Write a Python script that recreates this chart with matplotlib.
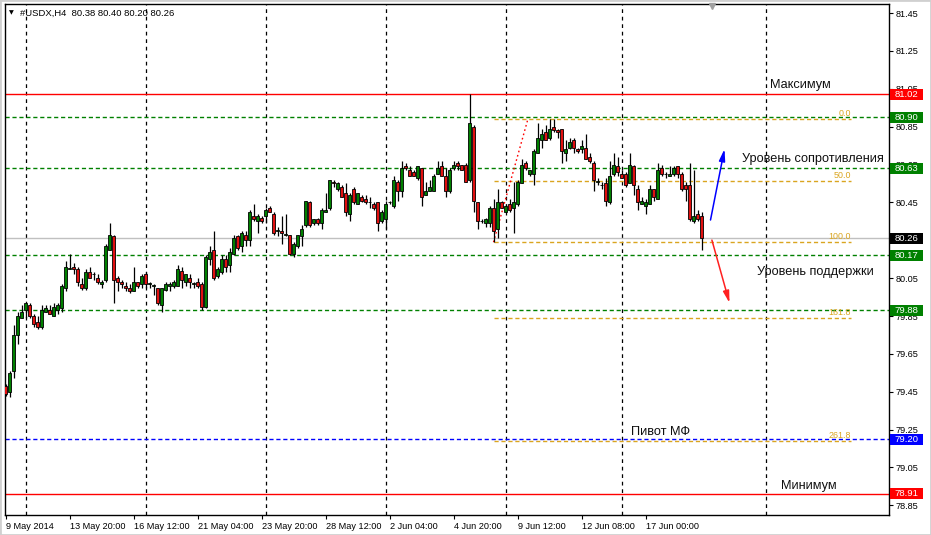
"""USDX H4 candles with support / resistance levels, MT4 style."""
import numpy as np
import matplotlib
matplotlib.use("Agg")
import matplotlib.pyplot as plt
from matplotlib.patches import Rectangle
from matplotlib.transforms import blended_transform_factory

# ---- OHLC, one value per H4 bar ----
opens = [
    79.48, 79.45, 79.56, 79.75, 79.84, 79.88, 79.91, 79.85, 79.82, 79.79,
    79.87, 79.88, 79.85, 79.88, 79.89, 80.00, 80.10, 80.11, 80.10, 80.02,
    80.00, 80.08, 80.07, 80.05, 80.02, 80.04, 80.20, 80.27, 80.05, 80.03,
    80.01, 80.00, 79.98, 80.03, 80.02, 80.07, 80.02, 80.01, 80.00, 79.91,
    79.99, 80.01, 80.01, 80.01, 80.09, 80.03, 80.05, 80.02, 80.03, 80.02,
    79.90, 80.15, 80.20, 80.06, 80.08, 80.15, 80.12, 80.18, 80.27, 80.22,
    80.28, 80.25, 80.38, 80.35, 80.37, 80.38, 80.42, 80.39, 80.30, 80.30,
    80.28, 80.28, 80.18, 80.22, 80.27, 80.33, 80.45, 80.34, 80.36, 80.34,
    80.40, 80.42, 80.56, 80.52, 80.53, 80.50, 80.39, 80.52, 80.44, 80.48,
    80.47, 80.45, 80.44, 80.45, 80.35, 80.36, 80.45, 80.43, 80.56, 80.51,
    80.64, 80.62, 80.61, 80.58, 80.63, 80.49, 80.51, 80.51, 80.60, 80.64,
    80.59, 80.51, 80.63, 80.66, 80.65, 80.65, 80.57, 80.85, 80.45, 80.35,
    80.34, 80.34, 80.42, 80.31, 80.45, 80.40, 80.44, 80.42, 80.44, 80.55,
    80.66, 80.60, 80.60, 80.71, 80.78, 80.82, 80.79, 80.85, 80.83, 80.84,
    80.71, 80.74, 80.78, 80.73, 80.73, 80.74, 80.69, 80.66, 80.56, 80.54,
    80.55, 80.45, 80.60, 80.64, 80.60, 80.60, 80.55, 80.64, 80.52, 80.44,
    80.43, 80.44, 80.52, 80.47, 80.63, 80.60, 80.59, 80.60, 80.64, 80.60,
    80.54, 80.54, 80.35, 80.39, 80.38,
]
highs = [
    79.49, 79.56, 79.80, 79.87, 79.91, 79.92, 79.92, 79.86, 79.85, 79.91,
    79.91, 79.91, 79.92, 79.92, 80.02, 80.14, 80.18, 80.13, 80.11, 80.05,
    80.10, 80.11, 80.08, 80.07, 80.04, 80.23, 80.34, 80.28, 80.06, 80.04,
    80.03, 80.02, 80.11, 80.03, 80.07, 80.08, 80.03, 80.02, 80.00, 80.00,
    80.03, 80.03, 80.04, 80.12, 80.11, 80.07, 80.07, 80.03, 80.05, 80.03,
    80.17, 80.22, 80.30, 80.11, 80.17, 80.17, 80.21, 80.28, 80.28, 80.30,
    80.30, 80.41, 80.44, 80.39, 80.38, 80.42, 80.43, 80.40, 80.32, 80.38,
    80.39, 80.28, 80.24, 80.28, 80.33, 80.46, 80.46, 80.36, 80.37, 80.42,
    80.50, 80.57, 80.57, 80.56, 80.54, 80.55, 80.50, 80.53, 80.50, 80.49,
    80.49, 80.48, 80.45, 80.45, 80.41, 80.46, 80.46, 80.59, 80.57, 80.67,
    80.66, 80.64, 80.62, 80.64, 80.63, 80.56, 80.57, 80.60, 80.67, 80.67,
    80.63, 80.63, 80.67, 80.67, 80.65, 80.66, 81.02, 80.86, 80.45, 80.36,
    80.37, 80.43, 80.47, 80.52, 80.46, 80.44, 80.47, 80.56, 80.57, 80.68,
    80.67, 80.62, 80.73, 80.87, 80.84, 80.86, 80.89, 80.89, 80.84, 80.84,
    80.78, 80.79, 80.79, 80.74, 80.78, 80.81, 80.71, 80.67, 80.58, 80.56,
    80.58, 80.67, 80.71, 80.69, 80.62, 80.61, 80.71, 80.65, 80.54, 80.48,
    80.47, 80.54, 80.52, 80.66, 80.65, 80.61, 80.64, 80.64, 80.64, 80.61,
    80.56, 80.66, 80.62, 80.41, 80.40,
]
lows = [
    79.43, 79.42, 79.52, 79.70, 79.84, 79.84, 79.84, 79.79, 79.78, 79.78,
    79.87, 79.86, 79.85, 79.86, 79.87, 79.98, 80.10, 80.07, 80.01, 79.99,
    79.99, 80.05, 80.04, 80.02, 80.00, 80.03, 80.20, 79.92, 79.98, 80.00,
    79.98, 79.97, 79.98, 80.00, 80.00, 80.00, 80.00, 79.96, 79.91, 79.87,
    79.98, 79.98, 80.00, 80.01, 80.00, 80.01, 80.00, 80.00, 80.00, 79.88,
    79.89, 80.12, 80.04, 80.05, 80.07, 80.08, 80.08, 80.17, 80.20, 80.19,
    80.22, 80.22, 80.35, 80.29, 80.34, 80.34, 80.40, 80.28, 80.27, 80.23,
    80.27, 80.17, 80.16, 80.21, 80.22, 80.32, 80.32, 80.33, 80.33, 80.31,
    80.40, 80.41, 80.53, 80.51, 80.48, 80.38, 80.35, 80.44, 80.44, 80.45,
    80.44, 80.42, 80.41, 80.30, 80.34, 80.31, 80.44, 80.42, 80.46, 80.48,
    80.62, 80.59, 80.59, 80.57, 80.43, 80.49, 80.51, 80.51, 80.60, 80.59,
    80.48, 80.50, 80.62, 80.62, 80.62, 80.56, 80.56, 80.40, 80.31, 80.34,
    80.32, 80.32, 80.24, 80.26, 80.42, 80.40, 80.40, 80.29, 80.43, 80.55,
    80.62, 80.59, 80.54, 80.71, 80.74, 80.78, 80.78, 80.82, 80.79, 80.66,
    80.67, 80.73, 80.71, 80.71, 80.71, 80.68, 80.66, 80.51, 80.54, 80.52,
    80.43, 80.44, 80.59, 80.59, 80.58, 80.53, 80.55, 80.49, 80.41, 80.44,
    80.39, 80.44, 80.46, 80.47, 80.59, 80.58, 80.59, 80.59, 80.58, 80.51,
    80.46, 80.35, 80.34, 80.35, 80.20,
]
closes = [
    79.44, 79.55, 79.75, 79.85, 79.87, 79.92, 79.85, 79.81, 79.79, 79.88,
    79.89, 79.86, 79.90, 79.91, 80.01, 80.11, 80.10, 80.10, 80.03, 80.00,
    80.08, 80.05, 80.07, 80.03, 80.03, 80.22, 80.28, 80.04, 80.03, 80.02,
    80.00, 79.98, 80.03, 80.01, 80.06, 80.02, 80.02, 80.01, 79.92, 80.00,
    80.02, 80.02, 80.03, 80.10, 80.04, 80.07, 80.03, 80.02, 80.01, 79.90,
    80.16, 80.19, 80.05, 80.10, 80.15, 80.11, 80.19, 80.26, 80.21, 80.29,
    80.25, 80.40, 80.36, 80.38, 80.35, 80.41, 80.40, 80.29, 80.30, 80.29,
    80.28, 80.18, 80.23, 80.28, 80.31, 80.46, 80.33, 80.36, 80.34, 80.41,
    80.41, 80.57, 80.55, 80.55, 80.48, 80.40, 80.49, 80.45, 80.50, 80.46,
    80.45, 80.45, 80.42, 80.34, 80.40, 80.44, 80.45, 80.57, 80.51, 80.63,
    80.63, 80.59, 80.59, 80.64, 80.48, 80.51, 80.53, 80.59, 80.63, 80.59,
    80.51, 80.62, 80.65, 80.64, 80.62, 80.56, 80.87, 80.46, 80.35, 80.35,
    80.36, 80.42, 80.30, 80.45, 80.42, 80.43, 80.41, 80.45, 80.56, 80.65,
    80.63, 80.62, 80.72, 80.79, 80.81, 80.78, 80.84, 80.83, 80.82, 80.72,
    80.73, 80.77, 80.74, 80.72, 80.75, 80.68, 80.67, 80.57, 80.56, 80.54,
    80.46, 80.59, 80.65, 80.61, 80.58, 80.54, 80.65, 80.54, 80.45, 80.46,
    80.45, 80.52, 80.48, 80.62, 80.60, 80.60, 80.60, 80.63, 80.60, 80.52,
    80.52, 80.36, 80.38, 80.36, 80.26,
]

# time axis: bar index of each label
time_ticks = [0, 16, 32, 48, 64, 80, 96, 112, 128, 144, 160]
time_labels = ["9 May 2014", "13 May 20:00", "16 May 12:00", "21 May 04:00",
               "23 May 20:00", "28 May 12:00", "2 Jun 04:00", "4 Jun 20:00",
               "9 Jun 12:00", "12 Jun 08:00", "17 Jun 00:00"]
vgrid_bars = [5, 35, 65, 95, 125, 154, 190]
price_ticks = [78.85, 79.05, 79.25, 79.45, 79.65, 79.85, 80.05, 80.25,
               80.45, 80.65, 80.85, 81.05, 81.25, 81.45]
hidden_ticks = [80.25]   # sits right under the 80.26 price box

# horizontal levels
level_prices = [81.02, 80.90, 80.63, 80.26, 80.17, 79.88, 79.20, 78.91]
level_colors = ["#ff0000", "#008000", "#008000", "#c0c0c0",
                "#008000", "#008000", "#0000ff", "#ff0000"]
level_styles = ["-", "--", "--", "-", "--", "--", "--", "-"]
label_bg = ["#ff0000", "#008000", "#008000", "#000000",
            "#008000", "#008000", "#0000ff", "#ff0000"]

# fibonacci retracement
fib_high, fib_low = 80.89, 80.24
fib_ratios = [0.0, 50.0, 100.0, 161.8, 261.8]
fib_start, fib_end = 122, 211.4

notes = [("Максимум", 191.1, 81.053), ("Уровень сопротивления", 184.1, 80.662),
         ("Уровень поддержки", 187.9, 80.067), ("Пивот МФ", 156.4, 79.221),
         ("Минимум", 193.9, 78.936)]

GREEN = "#008000"
RED = "#e01010"
GOLD = "#daa520"
FONT = "Liberation Sans"

fig = plt.figure(figsize=(9.31, 5.35), dpi=100)
fig.patch.set_facecolor("white")
ax = fig.add_axes([5 / 931, 20 / 535, 884 / 931, 511 / 535])
ax.set_xlim(-0.125, 220.875)
ax.set_ylim(78.799, 81.498)

o = np.array(opens); h = np.array(highs); l = np.array(lows); c = np.array(closes)
idx = np.arange(len(o))

# grid + levels
for b in vgrid_bars:
    ax.axvline(b, color="black", lw=0.9, ls=(0, (3, 3)), zorder=1)
for p, col, st in zip(level_prices, level_colors, level_styles):
    ax.axhline(p, color=col, lw=1.0, ls=st if st == "-" else (0, (3, 2)), zorder=1)

# fibo
for r in fib_ratios:
    lv = fib_high - (fib_high - fib_low) * r / 100
    ax.hlines(lv, fib_start, fib_end, color=GOLD, lw=1.0, ls=(0, (3, 2)), zorder=1.5)
    ax.text(fib_end, lv + 0.005, f"{r:.1f}", color=GOLD, fontsize=6.4, family=FONT,
            ha="right", va="bottom", zorder=2)
ax.plot([fib_start, 130.6], [fib_low, fib_high], color="#ff0000", lw=1.0,
        ls=(0, (1.2, 2)), zorder=1.6)

# candles
ax.vlines(idx, l, h, color="black", lw=0.9, zorder=3)
up = c >= o
body_h = np.maximum(np.abs(c - o), 0.002)
ax.bar(idx, body_h, bottom=np.minimum(o, c), width=0.62,
       color=np.where(up, GREEN, RED), edgecolor="black", linewidth=0.6, zorder=4)

# arrows
ax.annotate("", xy=(179.75, 80.732), xytext=(176.25, 80.357),
            arrowprops=dict(arrowstyle="-|>,head_length=0.7,head_width=0.18",
                            color="#0000ff", lw=1.1, shrinkA=0, shrinkB=0))
ax.annotate("", xy=(181.0, 79.919), xytext=(176.6, 80.251),
            arrowprops=dict(arrowstyle="-|>,head_length=0.7,head_width=0.18",
                            color="#ff2020", lw=1.1, shrinkA=0, shrinkB=0))

for txt, x, y in notes:
    ax.text(x, y, txt, fontsize=9.2, family=FONT, color="#101010",
            ha="left", va="baseline", zorder=5)

# axes look
for s in ax.spines.values():
    s.set_color("black"); s.set_linewidth(1.0)
ax.yaxis.tick_right()
ax.set_yticks(price_ticks)
ax.set_yticklabels(["" if v in hidden_ticks else f"{v:.2f}" for v in price_ticks])
ax.set_xticks(time_ticks)
ax.set_xticklabels(time_labels)
for lb in ax.get_xticklabels():
    lb.set_ha("left")
ax.tick_params(axis="both", labelsize=6.6, length=3, width=0.8, pad=2,
               colors="black", labelfontfamily=FONT)

# price boxes on the right scale (about 33 x 11 px)
tr = blended_transform_factory(ax.transAxes, ax.transData)
box_w = 33 / 884
box_h = 11 / 189.3
for p, bg in zip(level_prices, label_bg):
    ax.add_patch(Rectangle((1.0015, p - box_h / 2), box_w, box_h, transform=tr,
                           facecolor=bg, edgecolor="none", clip_on=False, zorder=6))
    ax.text(1.0015 + box_w / 2, p, f"{p:.2f}", transform=tr, fontsize=6.8,
            family=FONT, color="white", ha="center", va="center", clip_on=False,
            zorder=7)

# header
fig.text(9 / 931, 1 - 13 / 535, "\u25BC", fontsize=4.5, va="center", ha="left")
fig.text(20 / 931, 1 - 13 / 535, "#USDX,H4  80.38 80.40 80.20 80.26",
         fontsize=6.8, family=FONT, va="center", ha="left")
ax.plot([176.6], [81.485], marker="v", color="#a0a0a0", ms=5, clip_on=False, zorder=6)

fig.patches.append(Rectangle((0, 0), 1, 1, transform=fig.transFigure, fill=False,
                             ec="#d0d0d0", lw=2))

fig.savefig("out.png", dpi=100, facecolor="white")
